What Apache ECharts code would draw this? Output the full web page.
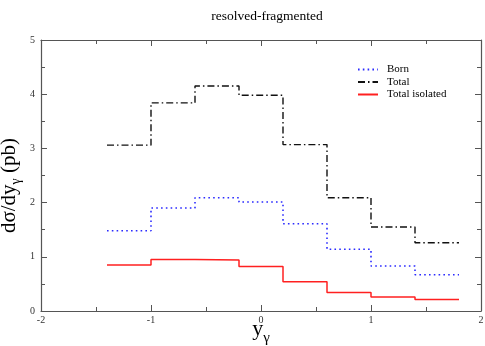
<!DOCTYPE html>
<html><head><meta charset="utf-8">
<script src="https://cdn.jsdelivr.net/npm/echarts@6/dist/echarts.min.js"></script>
<style>html,body{margin:0;padding:0;background:#fff}#c{width:485px;height:346px}</style>
</head><body><div id="c"></div>
<script>
const binEdges = [-1.4, -1.0, -0.6, -0.2, 0.2, 0.6, 1.0, 1.4, 1.8];
const born = [1.48, 1.90, 2.09, 2.01, 1.61, 1.14, 0.83, 0.67];
const total = [3.06, 3.84, 4.15, 3.98, 3.07, 2.09, 1.55, 1.26];
const totalIsolated = [0.85, 0.95, 0.94, 0.82, 0.54, 0.34, 0.26, 0.21];
const xTicks = [-2, -1, 0, 1, 2];
const yTicks = [0, 1, 2, 3, 4, 5];

function stepData(vals){
  const d = vals.map((v,i)=>[binEdges[i], v]);
  d.push([binEdges[binEdges.length-1], vals[vals.length-1]]);
  return d;
}
const serif = 'Liberation Serif';
const axisCol = '#555';
const chart = echarts.init(document.getElementById('c'), null, {renderer:'canvas'});
const common = () => ({
  axisLine:{show:true, onZero:false, lineStyle:{color:axisCol, width:1.2}},
  axisTick:{show:true, inside:true, length:6, lineStyle:{color:axisCol}},
  minorTick:{show:true, splitNumber:2, length:4, lineStyle:{color:axisCol}},
  splitLine:{show:false}
});
chart.setOption({
  animation:false,
  title:{text:'resolved-fragmented', left:262, textAlign:'center', top:4,
    textStyle:{fontFamily:serif, fontWeight:'normal', fontSize:13.5, color:'#000'}},
  grid:{left:41, right:4, top:40, bottom:35, containLabel:false, outerBoundsMode:'none'},
  legend:{left:352, top:59, orient:'vertical', itemWidth:20, itemHeight:10, itemGap:1.5,
    itemStyle:{opacity:0},
    textStyle:{fontFamily:serif, fontSize:11, color:'#000', padding:[0,0,0,4]},
    data:['Born','Total','Total isolated']},
  xAxis:[
    Object.assign({type:'value', min:-2, max:2, interval:1, position:'bottom',
      axisLabel:{fontFamily:serif, fontSize:10, color:'#333', margin:4,
        formatter:v=> xTicks.includes(v)? String(v):''},
      name:'{a|y}{b|γ}', nameLocation:'middle', nameGap:2, nameMoveOverlap:false,
      nameTextStyle:{rich:{a:{fontFamily:serif, fontSize:22, color:'#000'},
        b:{fontFamily:serif, fontSize:15, color:'#000', padding:[18,0,0,0]}}}}, common()),
    Object.assign({type:'value', min:-2, max:2, interval:1, position:'top', axisLabel:{show:false}}, common())
  ],
  yAxis:[
    Object.assign({type:'value', min:0, max:5, interval:1, position:'left',
      axisLabel:{fontFamily:serif, fontSize:10, color:'#333', margin:6,
        formatter:v=> yTicks.includes(v)? String(v):''},
      name:'{a|dσ/dy}{b|γ}{a| (pb)}', nameLocation:'middle', nameGap:18, nameRotate:90, nameMoveOverlap:false,
      nameTextStyle:{padding:[0,20,0,0], rich:{a:{fontFamily:serif, fontSize:21, color:'#000'},
        b:{fontFamily:serif, fontSize:14, color:'#000', padding:[14,0,0,0]}}}}, common()),
    Object.assign({type:'value', min:0, max:5, interval:1, position:'right', axisLabel:{show:false}}, common())
  ],
  series:[
    {name:'Born', type:'line', step:'end', symbol:'none', data:stepData(born),
      lineStyle:{color:'#2b2bff', width:1.6, type:[1.6,3.2]}, itemStyle:{color:'#2b2bff'}},
    {name:'Total', type:'line', step:'end', symbol:'none', data:stepData(total),
      lineStyle:{color:'#111', width:1.4, type:[7,3,1.5,3]}, itemStyle:{color:'#111'}},
    {name:'Total isolated', type:'line', step:'end', symbol:'none', data:stepData(totalIsolated),
      lineStyle:{color:'#ff2020', width:1.5, type:'solid'}, itemStyle:{color:'#ff2020'}}
  ]
});
</script></body></html>
